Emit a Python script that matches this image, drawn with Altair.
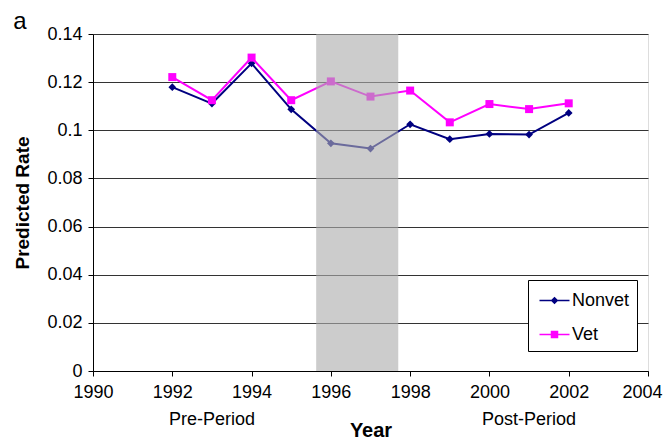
import altair as alt
import pandas as pd

# ---- data ----
years = [1992, 1993, 1994, 1995, 1996, 1997, 1998, 1999, 2000, 2001, 2002]
nonvet = [0.1179, 0.1111, 0.1278, 0.1087, 0.0946, 0.0924, 0.1025, 0.0963, 0.0985, 0.0982, 0.1072]
vet = [0.1221, 0.1125, 0.1302, 0.1125, 0.1203, 0.1140, 0.1165, 0.1033, 0.1109, 0.1088, 0.1112]
series_names = ["Nonvet", "Vet"]
series_colors = ["#000080", "#FF00FF"]
shade_start = [1995.63]
shade_end = [1997.70]
period_labels = ["Pre-Period", "Post-Period"]
period_x = [1993, 2001]
x_ticks = [1990, 1992, 1994, 1996, 1998, 2000, 2002, 2004]
y_ticks = [0, 0.02, 0.04, 0.06, 0.08, 0.1, 0.12, 0.14]
panel_letter = ["a"]

FONT = "Liberation Sans"
W, H = 555, 337

df = pd.DataFrame({
    "year": years * 2,
    "rate": nonvet + vet,
    "series": [series_names[0]] * len(years) + [series_names[1]] * len(years),
})
shade_df = pd.DataFrame({"start": shade_start, "end": shade_end,
                         "lo": [y_ticks[0]], "hi": [y_ticks[-1]]})
period_df = pd.DataFrame({"label": period_labels, "x": period_x})
letter_df = pd.DataFrame({"t": panel_letter})

x_scale = alt.Scale(domain=[x_ticks[0], x_ticks[-1]], nice=False)
y_scale = alt.Scale(domain=[y_ticks[0], y_ticks[-1]], nice=False)

last_tick_test = f"datum.value == {x_ticks[-1]}"
x_axis = alt.Axis(values=x_ticks, format="d", grid=False, tickSize=5,
                  tickColor="black", domainColor="black", labelColor="black",
                  labelFontSize=18, labelFont=FONT, labelPadding=7, labelFlush=False,
                  labelAlign={"condition": {"test": last_tick_test, "value": "right"},
                              "value": "center"},
                  labelOffset={"condition": {"test": last_tick_test, "value": 14},
                               "value": 0},
                  title="Year", titleFont=FONT, titleFontSize=20, titleFontWeight="bold",
                  titleColor="black", titleY=65, titleBaseline="alphabetic")
y_axis = alt.Axis(values=y_ticks, format="~g", grid=True, gridColor="#333333",
                  gridWidth=1.2, tickSize=5, tickColor="black", domainColor="black",
                  labelColor="black", labelFontSize=18, labelFont=FONT, labelPadding=6,
                  title="Predicted Rate", titleFont=FONT, titleFontSize=19,
                  titleFontWeight="bold", titleColor="black", titleX=-71, titleY=H / 2,
                  titleAngle=270, titleAlign="center", titleBaseline="middle")


def X(field):
    return alt.X(field, scale=x_scale, axis=x_axis)


def Y(field):
    return alt.Y(field, scale=y_scale, axis=y_axis)


layers = []
point_shapes = {"Nonvet": ("diamond", 60), "Vet": ("square", 64)}
for name, color in zip(series_names, series_colors):
    base = alt.Chart(df).transform_filter(alt.datum.series == name)
    layers.append(base.mark_line(color=color, strokeWidth=2).encode(x=X("year:Q"), y=Y("rate:Q")))
    shp, sz = point_shapes[name]
    layers.append(base.mark_point(shape=shp, size=sz, filled=True, color=color, opacity=1)
                  .encode(x=X("year:Q"), y=Y("rate:Q")))

shade = alt.Chart(shade_df).mark_rect(color="#ACACAC", opacity=0.62).encode(
    x=X("start:Q"), x2="end:Q", y=Y("lo:Q"), y2="hi:Q")
layers.append(shade)

legend_paths = [
    "M-1.2,0L1.2,0M0,-0.22L0.22,0L0,0.22L-0.22,0Z",
    "M-1.2,0L1.2,0M-0.24,-0.24L0.24,-0.24L0.24,0.24L-0.24,0.24Z",
]
leg = dict(orient="none", legendX=435, legendY=246, title=None, strokeColor="black",
           fillColor="white", padding=7, labelFontSize=18, labelFont=FONT,
           labelColor="black", symbolSize=625, rowPadding=11, symbolStrokeWidth=1.5,
           labelOffset=4, symbolOffset=6, cornerRadius=0)
color_scale = alt.Scale(domain=series_names, range=series_colors)
legend_layer = alt.Chart(df).transform_filter("datum.year < 0").mark_point(
    filled=True, strokeWidth=1.5, opacity=1).encode(
    x=X("year:Q"), y=Y("rate:Q"),
    color=alt.Color("series:N", scale=color_scale, legend=alt.Legend(**leg)),
    stroke=alt.Stroke("series:N", scale=color_scale, legend=alt.Legend(**leg)),
    shape=alt.Shape("series:N", scale=alt.Scale(domain=series_names, range=legend_paths),
                    legend=alt.Legend(**leg)),
)
layers.append(legend_layer)

periods = alt.Chart(period_df).mark_text(fontSize=18, font=FONT, color="black").encode(
    x=X("x:Q"), y=alt.value(H + 49), text="label:N")
layers.append(periods)

letter = alt.Chart(letter_df).mark_text(fontSize=24, font=FONT, color="black",
                                        baseline="middle").encode(
    x=alt.value(-73), y=alt.value(-12), text="t:N")
layers.append(letter)

chart = alt.layer(*layers).properties(
    width=W, height=H,
    autosize=alt.AutoSizeParams(type="none"),
    padding={"left": 85, "top": 26, "right": 15, "bottom": 68},
).configure_view(stroke="black", strokeWidth=1.2).configure(background="white")

chart.save("out.html", embed_options={"renderer": "svg", "actions": False})
